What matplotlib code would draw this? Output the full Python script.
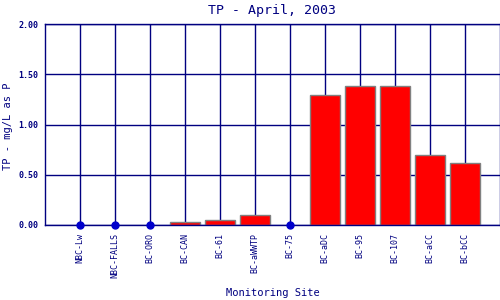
import matplotlib
matplotlib.use("Agg")
import matplotlib.pyplot as plt
import numpy as np

sites = ["NBC-Lw", "NBC-FALLS", "BC-ORO", "BC-CAN", "BC-61", "BC-aWWTP",
         "BC-75", "BC-aDC", "BC-95", "BC-107", "BC-aCC", "BC-bCC"]
tp = [0.0, 0.0, 0.0, 0.03, 0.05, 0.10, 0.0, 1.29, 1.38, 1.38, 0.70, 0.62]

navy = "#000080"
plt.rcParams['font.family'] = ['DejaVu Sans Mono']

fig = plt.figure(figsize=(5, 3), dpi=100)
ax = fig.add_axes([0.09, 0.25, 0.91, 0.67])

x = np.arange(len(sites))
vals = np.array(tp)
ax.set_axisbelow(True)
ax.grid(True, color=navy, linewidth=1)
nz = vals > 0
ax.bar(x[nz], vals[nz], width=0.86, color="#ff0000", edgecolor="#808080", linewidth=1, zorder=2)
ax.plot(x[~nz], vals[~nz], 'o', color="#0000cc", markersize=5, zorder=3, clip_on=False)

ax.set_xlim(-1, 12)
ax.set_ylim(0, 2.0)
ax.set_yticks([0, 0.5, 1.0, 1.5, 2.0])
ax.set_yticklabels(["0.00", "0.50", "1.00", "1.50", "2.00"], fontsize=6, color=navy, fontweight='bold')
ax.set_xticks(x)
ax.set_xticklabels(sites, rotation=90, fontsize=6, color=navy)
ax.tick_params(axis='x', length=0, pad=6)
ax.tick_params(axis='y', length=0, pad=5)
for s in ax.spines.values():
    s.set_color(navy)
    s.set_linewidth(1)

ax.set_title("TP - April, 2003", fontsize=9.5, color=navy, pad=7)
fig.text(0.016, 0.58, "TP - mg/L as P", rotation=90, fontsize=7.5, color=navy,
         ha='center', va='center')
fig.text(0.545, 0.022, "Monitoring Site", fontsize=7.5, color=navy,
         ha='center', va='center')

fig.savefig("out.png", dpi=100)
